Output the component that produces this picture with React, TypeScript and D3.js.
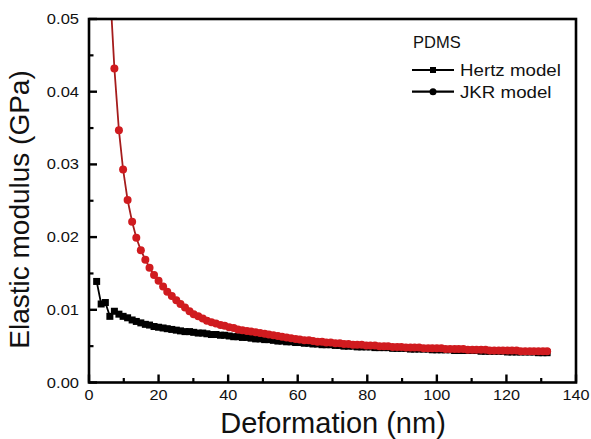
import React from "react";
import * as d3 from "d3";

// Deformation (nm) at each measurement step
const deformation = [
  2.2, 3.5, 4.7, 6.0, 7.3, 8.6, 9.8, 11.1, 12.4, 13.6,
  14.9, 16.2, 17.4, 18.7, 20.0, 21.3, 22.5, 23.8, 25.1, 26.3,
  27.6, 28.9, 30.1, 31.4, 32.7, 33.9, 35.2, 36.5, 37.8, 39.0,
  40.3, 41.6, 42.8, 44.1, 45.4, 46.6, 47.9, 49.2, 50.5, 51.7,
  53.0, 54.3, 55.5, 56.8, 58.1, 59.4, 60.6, 61.9, 63.2, 64.4,
  65.7, 67.0, 68.2, 69.5, 70.8, 72.1, 73.3, 74.6, 75.9, 77.1,
  78.4, 79.7, 80.9, 82.2, 83.5, 84.8, 86.0, 87.3, 88.6, 89.8,
  91.1, 92.4, 93.6, 94.9, 96.2, 97.5, 98.7, 100.0, 101.3, 102.5,
  103.8, 105.1, 106.3, 107.6, 108.9, 110.2, 111.4, 112.7, 114.0, 115.2,
  116.5, 117.8, 119.0, 120.3, 121.6, 122.9, 124.1, 125.4, 126.7, 127.9,
  129.2, 130.5, 131.7,
];

// Elastic modulus (GPa), Hertz model
const hertzModulus = [
  0.0139, 0.0108, 0.0110, 0.0091, 0.0098, 0.0094, 0.0091, 0.0089, 0.0086, 0.0084,
  0.0082, 0.0080, 0.0079, 0.0077, 0.0076, 0.0075, 0.0074, 0.0073, 0.0072, 0.0071,
  0.0070, 0.0070, 0.0069, 0.0068, 0.0068, 0.0067, 0.0066, 0.0066, 0.0065, 0.0065,
  0.0064, 0.0063, 0.0063, 0.0062, 0.0062, 0.0061, 0.0060, 0.0060, 0.0059, 0.0059,
  0.0058, 0.0057, 0.0057, 0.0056, 0.0056, 0.0055, 0.0055, 0.0054, 0.0054, 0.0053,
  0.0053, 0.0052, 0.0052, 0.0052, 0.0051, 0.0051, 0.0050, 0.0050, 0.0050, 0.0049,
  0.0049, 0.0049, 0.0049, 0.0048, 0.0048, 0.0048, 0.0048, 0.0047, 0.0047, 0.0047,
  0.0047, 0.0046, 0.0046, 0.0046, 0.0046, 0.0046, 0.0045, 0.0045, 0.0045, 0.0045,
  0.0045, 0.0044, 0.0044, 0.0044, 0.0044, 0.0044, 0.0044, 0.0043, 0.0043, 0.0043,
  0.0043, 0.0043, 0.0043, 0.0042, 0.0042, 0.0042, 0.0042, 0.0042, 0.0042, 0.0042,
  0.0041, 0.0041, 0.0041,
];

// Elastic modulus (GPa), JKR model
const jkrModulus = [
  0.140, 0.095, 0.070, 0.0545, 0.0432, 0.0347, 0.0293, 0.0251, 0.0221, 0.0199,
  0.0182, 0.0169, 0.0158, 0.0148, 0.0140, 0.0132, 0.0125, 0.0119, 0.0113, 0.0108,
  0.0103, 0.0098, 0.0094, 0.0091, 0.0088, 0.0085, 0.0083, 0.0081, 0.0079, 0.0078,
  0.0076, 0.0075, 0.0073, 0.0072, 0.0071, 0.0070, 0.0069, 0.0068, 0.0067, 0.0066,
  0.0065, 0.0064, 0.0063, 0.0062, 0.0061, 0.0060, 0.0059, 0.0058, 0.0058, 0.0057,
  0.0056, 0.0056, 0.0055, 0.0055, 0.0054, 0.0054, 0.0053, 0.0053, 0.0052, 0.0052,
  0.0052, 0.0051, 0.0051, 0.0051, 0.0050, 0.0050, 0.0050, 0.0049, 0.0049, 0.0049,
  0.0048, 0.0048, 0.0048, 0.0048, 0.0047, 0.0047, 0.0047, 0.0047, 0.0047, 0.0046,
  0.0046, 0.0046, 0.0046, 0.0046, 0.0045, 0.0045, 0.0045, 0.0045, 0.0045, 0.0044,
  0.0044, 0.0044, 0.0044, 0.0044, 0.0044, 0.0044, 0.0043, 0.0043, 0.0043, 0.0043,
  0.0043, 0.0043, 0.0043,
];

const xTicks = [0, 20, 40, 60, 80, 100, 120, 140];
const xMinorTicks = [10, 30, 50, 70, 90, 110, 130];
const yTicks = [0, 0.01, 0.02, 0.03, 0.04, 0.05];
const yMinorTicks = [0.005, 0.015, 0.025, 0.035, 0.045];

const legendTitle = "PDMS";
const seriesNames = ["Hertz model", "JKR model"];
const xTitle = "Deformation (nm)";
const yTitle = "Elastic modulus (GPa)";

const FONT = "'Liberation Sans', Arial, Helvetica, sans-serif";
const RED = "#d01b1f";
const RED_LINE = "#a51c1c";

function Label({ x, y, sx = 1, size, anchor = "start", children }: any) {
  return (
    <text
      transform={`translate(${x},${y}) scale(${sx},1)`}
      textAnchor={anchor}
      fontSize={size}
      fontFamily={FONT}
      fill="#111"
    >
      {children}
    </text>
  );
}

export default function App() {
  const left = 89, right = 576, top = 19, bottom = 382.5;
  const x = d3.scaleLinear().domain([0, 140]).range([left, right]);
  const y = d3.scaleLinear().domain([0, 0.05]).range([bottom, top]);

  const hertz = deformation.map((d, i) => [d, hertzModulus[i]] as [number, number]);
  const jkr = deformation.map((d, i) => [d, jkrModulus[i]] as [number, number]);

  const line = d3
    .line<[number, number]>()
    .x((d) => x(d[0]))
    .y((d) => y(d[1]));

  const sq = 7;

  return (
    <svg
      width={591}
      height={439}
      style={{ position: "absolute", left: 0, top: 0, background: "#fff" }}
    >
      <defs>
        <clipPath id="plotClip">
          <rect x={left} y={top} width={right - left} height={bottom - top} />
        </clipPath>
      </defs>

      {/* data */}
      <g clipPath="url(#plotClip)">
        <path d={line(hertz) || ""} fill="none" stroke="#000" strokeWidth={1.8} />
        {hertz.map((d, i) => (
          <rect
            key={`h${i}`}
            x={x(d[0]) - sq / 2}
            y={y(d[1]) - sq / 2}
            width={sq}
            height={sq}
            fill="#000"
          />
        ))}
        <path d={line(jkr) || ""} fill="none" stroke={RED_LINE} strokeWidth={1.8} />
        {jkr.map((d, i) => (
          <circle key={`j${i}`} cx={x(d[0])} cy={y(d[1])} r={4} fill={RED} />
        ))}
      </g>

      {/* frame */}
      <rect
        x={left}
        y={top}
        width={right - left}
        height={bottom - top}
        fill="none"
        stroke="#000"
        strokeWidth={2.6}
      />

      {/* y ticks */}
      {yTicks.map((t) => (
        <line key={`yt${t}`} x1={left} x2={left + 8} y1={y(t)} y2={y(t)} stroke="#000" strokeWidth={2.4} />
      ))}
      {yMinorTicks.map((t) => (
        <line key={`ym${t}`} x1={left} x2={left + 4.5} y1={y(t)} y2={y(t)} stroke="#000" strokeWidth={2.2} />
      ))}
      {yTicks.map((t) => (
        <Label key={`yl${t}`} x={79} y={y(t) + 5} sx={1.14} size={14.5} anchor="end">
          {d3.format(".2f")(t)}
        </Label>
      ))}

      {/* x ticks */}
      {xTicks.map((t) => (
        <line key={`xt${t}`} x1={x(t)} x2={x(t)} y1={bottom} y2={bottom - 8} stroke="#000" strokeWidth={2.4} />
      ))}
      {xMinorTicks.map((t) => (
        <line key={`xm${t}`} x1={x(t)} x2={x(t)} y1={bottom} y2={bottom - 4.5} stroke="#000" strokeWidth={2.2} />
      ))}
      {xTicks.map((t) => (
        <Label key={`xl${t}`} x={x(t)} y={399.5} sx={1.12} size={14.5} anchor="middle">
          {String(t)}
        </Label>
      ))}

      {/* axis titles */}
      <Label x={333} y={433} size={29} anchor="middle">
        {xTitle}
      </Label>
      <text
        transform={`translate(28.5,${(350 + 69) / 2}) rotate(-90)`}
        textAnchor="middle"
        fontSize={28}
        fontFamily={FONT}
        fill="#111"
      >
        {yTitle}
      </text>

      {/* legend */}
      <Label x={413} y={48} size={16.5}>
        {legendTitle}
      </Label>
      <line x1={412} x2={454} y1={70} y2={70} stroke="#000" strokeWidth={2.2} />
      <rect x={433 - 3} y={70 - 3} width={6} height={6} fill="#000" />
      <Label x={460} y={75.5} sx={1.17} size={16}>
        {seriesNames[0]}
      </Label>
      <line x1={412} x2={454} y1={91.7} y2={91.7} stroke="#000" strokeWidth={2.2} />
      <circle cx={433} cy={91.7} r={3.5} fill="#000" />
      <Label x={460} y={97.5} sx={1.17} size={16}>
        {seriesNames[1]}
      </Label>
    </svg>
  );
}
